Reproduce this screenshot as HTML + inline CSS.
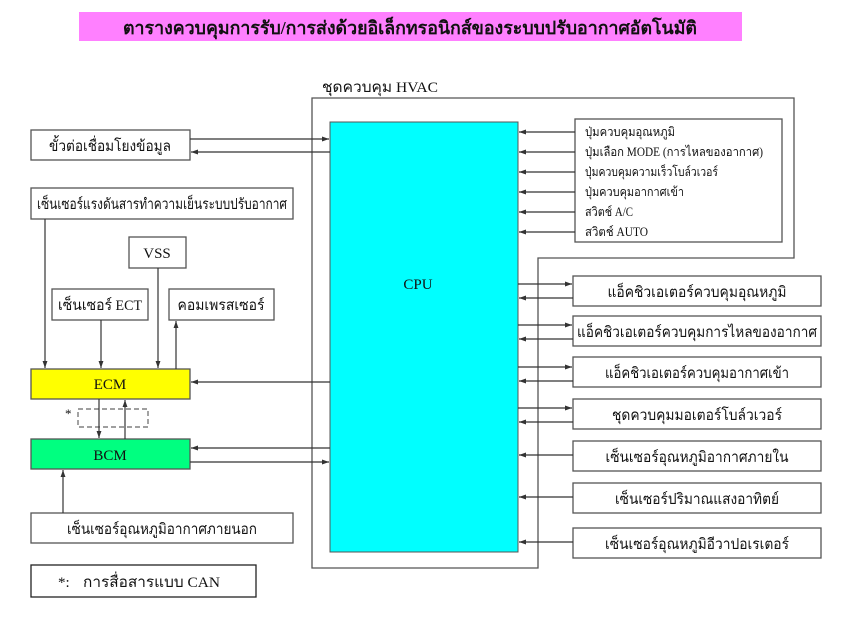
<!DOCTYPE html>
<html><head><meta charset="utf-8"><style>
html,body{margin:0;padding:0;background:#fff;}
svg{display:block;}
text{font-family:"Liberation Serif","DejaVu Serif",serif;fill:#111;}
</style></head><body>
<svg width="856" height="620" viewBox="0 0 856 620" xmlns="http://www.w3.org/2000/svg">
<defs>
<marker id="a" viewBox="0 0 10 10" refX="10" refY="5" markerWidth="7" markerHeight="7" orient="auto-start-reverse" markerUnits="userSpaceOnUse"><path d="M0,1.5 L10,5 L0,8.5 Z" fill="#333"/></marker>
</defs>
<rect x="79" y="12" width="663" height="29" fill="#ff80ff"/>
<text x="123" y="34" font-size="18" font-weight="bold" textLength="574" lengthAdjust="spacingAndGlyphs">ตารางควบคุมการรับ/การส่งด้วยอิเล็กทรอนิกส์ของระบบปรับอากาศอัตโนมัติ</text>

<text x="322" y="92" font-size="15" textLength="116" lengthAdjust="spacingAndGlyphs">ชุดควบคุม HVAC</text>
<path d="M312,568 V98 H794 V258 H538 V568 Z" fill="none" stroke="#555" stroke-width="1.3"/>
<rect x="330" y="122" width="188" height="430" fill="#00ffff" stroke="#555" stroke-width="1"/>
<text x="418" y="289" font-size="15" text-anchor="middle">CPU</text>

<g fill="#fff" stroke="#555" stroke-width="1.3">
<rect x="575" y="119" width="207" height="123"/>
<rect x="31" y="130" width="159" height="30"/>
<rect x="31" y="188" width="262" height="31"/>
<rect x="129" y="237" width="57" height="31"/>
<rect x="52" y="289" width="96" height="31"/>
<rect x="169" y="289" width="105" height="31"/>
<rect x="31" y="513" width="262" height="30"/>
<rect x="573" y="276" width="248" height="30"/>
<rect x="573" y="316" width="248" height="30"/>
<rect x="573" y="357" width="248" height="30"/>
<rect x="573" y="399" width="248" height="30"/>
<rect x="573" y="441" width="248" height="30"/>
<rect x="573" y="483" width="248" height="30"/>
<rect x="573" y="528" width="248" height="30"/>
</g>
<rect x="31" y="565" width="225" height="32" fill="#fff" stroke="#222" stroke-width="1.3"/>
<rect x="31" y="369" width="159" height="30" fill="#ffff00" stroke="#555" stroke-width="1.3"/>
<rect x="31" y="439" width="159" height="30" fill="#00ff80" stroke="#555" stroke-width="1.3"/>
<rect x="78" y="409" width="70" height="18" fill="none" stroke="#666" stroke-width="1.2" stroke-dasharray="5,3"/>

<g font-size="12.5">
<text x="585" y="136" textLength="90" lengthAdjust="spacingAndGlyphs">ปุ่มควบคุมอุณหภูมิ</text>
<text x="585" y="156" textLength="178" lengthAdjust="spacingAndGlyphs">ปุ่มเลือก MODE (การไหลของอากาศ)</text>
<text x="585" y="176" textLength="133" lengthAdjust="spacingAndGlyphs">ปุ่มควบคุมความเร็วโบล์วเวอร์</text>
<text x="585" y="196" textLength="99" lengthAdjust="spacingAndGlyphs">ปุ่มควบคุมอากาศเข้า</text>
<text x="585" y="216" textLength="48" lengthAdjust="spacingAndGlyphs">สวิตช์ A/C</text>
<text x="585" y="236" textLength="63" lengthAdjust="spacingAndGlyphs">สวิตช์ AUTO</text>
</g>
<g font-size="15" text-anchor="middle">
<text x="110" y="151" textLength="122" lengthAdjust="spacingAndGlyphs">ขั้วต่อเชื่อมโยงข้อมูล</text>
<text x="162" y="209" textLength="250" lengthAdjust="spacingAndGlyphs">เซ็นเซอร์แรงดันสารทำความเย็นระบบปรับอากาศ</text>
<text x="157" y="258">VSS</text>
<text x="100" y="310" textLength="84" lengthAdjust="spacingAndGlyphs">เซ็นเซอร์ ECT</text>
<text x="221" y="310" textLength="87" lengthAdjust="spacingAndGlyphs">คอมเพรสเซอร์</text>
<text x="110" y="389">ECM</text>
<text x="110" y="460">BCM</text>
<text x="162" y="534" textLength="190" lengthAdjust="spacingAndGlyphs">เซ็นเซอร์อุณหภูมิอากาศภายนอก</text>
<text x="697" y="297" textLength="179" lengthAdjust="spacingAndGlyphs">แอ็คชิวเอเตอร์ควบคุมอุณหภูมิ</text>
<text x="697" y="337" textLength="240" lengthAdjust="spacingAndGlyphs">แอ็คชิวเอเตอร์ควบคุมการไหลของอากาศ</text>
<text x="697" y="378" textLength="184" lengthAdjust="spacingAndGlyphs">แอ็คชิวเอเตอร์ควบคุมอากาศเข้า</text>
<text x="697" y="420" textLength="170" lengthAdjust="spacingAndGlyphs">ชุดควบคุมมอเตอร์โบล์วเวอร์</text>
<text x="697" y="462" textLength="183" lengthAdjust="spacingAndGlyphs">เซ็นเซอร์อุณหภูมิอากาศภายใน</text>
<text x="697" y="504" textLength="164" lengthAdjust="spacingAndGlyphs">เซ็นเซอร์ปริมาณแสงอาทิตย์</text>
<text x="697" y="549" textLength="184" lengthAdjust="spacingAndGlyphs">เซ็นเซอร์อุณหภูมิอีวาปอเรเตอร์</text>
</g>
<text x="58" y="587" font-size="15">*:</text>
<text x="83" y="587" font-size="15" textLength="137" lengthAdjust="spacingAndGlyphs">การสื่อสารแบบ CAN</text>
<text x="65" y="418" font-size="13">*</text>

<g stroke="#333" stroke-width="1.2" fill="none" marker-end="url(#a)">
<line x1="575" y1="132" x2="519" y2="132"/>
<line x1="575" y1="152" x2="519" y2="152"/>
<line x1="575" y1="172" x2="519" y2="172"/>
<line x1="575" y1="192" x2="519" y2="192"/>
<line x1="575" y1="212" x2="519" y2="212"/>
<line x1="575" y1="232" x2="519" y2="232"/>
<line x1="190" y1="139" x2="329" y2="139"/>
<line x1="330" y1="152" x2="191" y2="152"/>
<line x1="45" y1="219" x2="45" y2="368"/>
<line x1="101" y1="320" x2="101" y2="368"/>
<line x1="158" y1="268" x2="158" y2="368"/>
<line x1="176" y1="369" x2="176" y2="321"/>
<line x1="330" y1="382" x2="191" y2="382"/>
<line x1="99" y1="399" x2="99" y2="438"/>
<line x1="125" y1="439" x2="125" y2="400"/>
<line x1="330" y1="448" x2="191" y2="448"/>
<line x1="190" y1="462" x2="329" y2="462"/>
<line x1="63" y1="513" x2="63" y2="470"/>
<line x1="518" y1="284" x2="572" y2="284"/>
<line x1="573" y1="298" x2="519" y2="298"/>
<line x1="518" y1="325" x2="572" y2="325"/>
<line x1="573" y1="339" x2="519" y2="339"/>
<line x1="518" y1="367" x2="572" y2="367"/>
<line x1="573" y1="381" x2="519" y2="381"/>
<line x1="518" y1="408" x2="572" y2="408"/>
<line x1="573" y1="422" x2="519" y2="422"/>
<line x1="573" y1="455" x2="519" y2="455"/>
<line x1="573" y1="497" x2="519" y2="497"/>
<line x1="573" y1="542" x2="519" y2="542"/>
</g>
</svg>
</body></html>
